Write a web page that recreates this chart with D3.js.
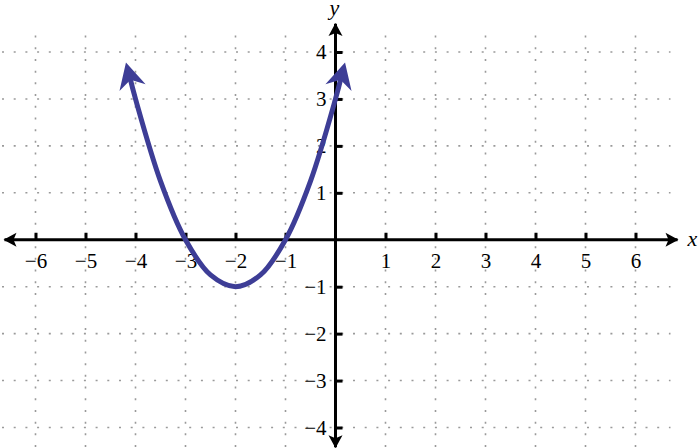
<!DOCTYPE html>
<html>
<head>
<meta charset="utf-8">
<script src="https://cdn.jsdelivr.net/npm/d3@7"></script>
<style>
  body { margin: 0; background: #fff; }
  svg { display: block; }
  .lbl { font-family: "Liberation Serif", "Times New Roman", serif; }
</style>
</head>
<body>
<div id="chart"></div>
<script>
// points
var curveX = [-4.12, -4, -3.5, -3, -2.5, -2, -1.5, -1, -0.5, 0, 0.12];
var curveY = [3.49, 3, 1.25, 0, -0.75, -1, -0.75, 0, 1.25, 3, 3.49];

var xTicks = [-6, -5, -4, -3, -2, -1, 1, 2, 3, 4, 5, 6];
var yTicks = [-4, -3, -2, -1, 1, 2, 3, 4];

var width = 700, height = 448;
var curveColor = "#3d3d96";
var serif = "Liberation Serif, Times New Roman, serif";

var svg = d3.select("#chart")
  .append("svg")
    .attr("width", width)
    .attr("height", height);

var x = d3.scaleLinear().domain([-6, 6]).range([35.5, 635.5]);
var y = d3.scaleLinear().domain([-4, 4]).range([427.5, 52]);

// dotted grid
var grid = svg.append("g")
  .attr("stroke", "#9a9a9a")
  .attr("stroke-width", 1.6)
  .attr("stroke-dasharray", "2,9.7");

grid.selectAll(".vg")
  .data(xTicks)
  .enter().append("line")
    .attr("x1", d => x(d)).attr("x2", d => x(d))
    .attr("y1", y(4.35)).attr("y2", height);

grid.selectAll(".hg")
  .data(yTicks)
  .enter().append("line")
    .attr("y1", d => y(d)).attr("y2", d => y(d))
    .attr("x1", 2).attr("x2", x(6.7));

function fmt(d) { return d < 0 ? "\u2212" + Math.abs(d) : d; }

// axes through the origin
var xAxis = svg.append("g")
  .attr("transform", "translate(0," + y(0) + ")")
  .call(d3.axisBottom(x).tickValues(xTicks).tickFormat(fmt)
    .tickSizeInner(-7).tickSizeOuter(0).tickPadding(13));

var yAxis = svg.append("g")
  .attr("transform", "translate(" + x(0) + ",0)")
  .call(d3.axisLeft(y).tickValues(yTicks).tickFormat(fmt)
    .tickSizeInner(-7).tickSizeOuter(0).tickPadding(9));

[xAxis, yAxis].forEach(function(a) {
  a.attr("font-family", serif).attr("font-size", 21);
  a.select(".domain").remove();
  a.selectAll(".tick line").attr("stroke", "#000").attr("stroke-width", 3);
  a.selectAll(".tick text")
    .attr("class", "lbl")
    .attr("fill", "#000")
    .attr("font-family", serif)
    .attr("font-size", 21);
});

function arrowHead(px, py, angle, len, hw, notch, color) {
  svg.append("path")
    .attr("d", "M0,0 L" + (-len) + "," + (-hw) + " L" + (-notch) + ",0 L" + (-len) + "," + hw + " Z")
    .attr("transform", "translate(" + px + "," + py + ") rotate(" + angle + ")")
    .attr("fill", color);
}

// axis lines with arrows
svg.append("line")
  .attr("x1", x(-6.62)).attr("x2", x(6.84))
  .attr("y1", y(0)).attr("y2", y(0))
  .attr("stroke", "#000").attr("stroke-width", 3);
svg.append("line")
  .attr("x1", x(0)).attr("x2", x(0))
  .attr("y1", y(4.6)).attr("y2", y(-4.42))
  .attr("stroke", "#000").attr("stroke-width", 3);
arrowHead(x(-6.64), y(0), 180, 13, 7, 10, "#000");
arrowHead(x(6.86), y(0), 0, 13, 7, 10, "#000");
arrowHead(x(0), y(4.62), -90, 13, 7, 10, "#000");
arrowHead(x(0), y(-4.44), 90, 13, 7, 10, "#000");

svg.append("text")
  .attr("class", "lbl")
  .attr("x", x(6.86) + 9).attr("y", y(0) + 6)
  .style("font-style", "italic")
  .style("font-size", "22px")
  .text("x");
svg.append("text")
  .attr("class", "lbl")
  .attr("x", x(0) - 6).attr("y", 15)
  .style("font-style", "italic")
  .style("font-size", "22px")
  .text("y");

// the parabola
var pts = curveX.map(function(d, i) { return [d, curveY[i]]; });
var line = d3.line()
  .x(d => x(d[0]))
  .y(d => y(d[1]))
  .curve(d3.curveCatmullRom.alpha(0.5));

svg.append("path")
  .datum(pts)
  .attr("d", line)
  .attr("fill", "none")
  .attr("stroke", curveColor)
  .attr("stroke-width", 5);

function endArrow(a, b) {
  var x0 = x(a[0]), y0 = y(a[1]), x1 = x(b[0]), y1 = y(b[1]);
  var ang = Math.atan2(y1 - y0, x1 - x0);
  var ext = 14;
  arrowHead(x1 + ext * Math.cos(ang), y1 + ext * Math.sin(ang),
    ang * 180 / Math.PI, 26, 13.5, 18, curveColor);
}
endArrow(pts[1], pts[0]);
endArrow(pts[pts.length - 2], pts[pts.length - 1]);
</script>
</body>
</html>
